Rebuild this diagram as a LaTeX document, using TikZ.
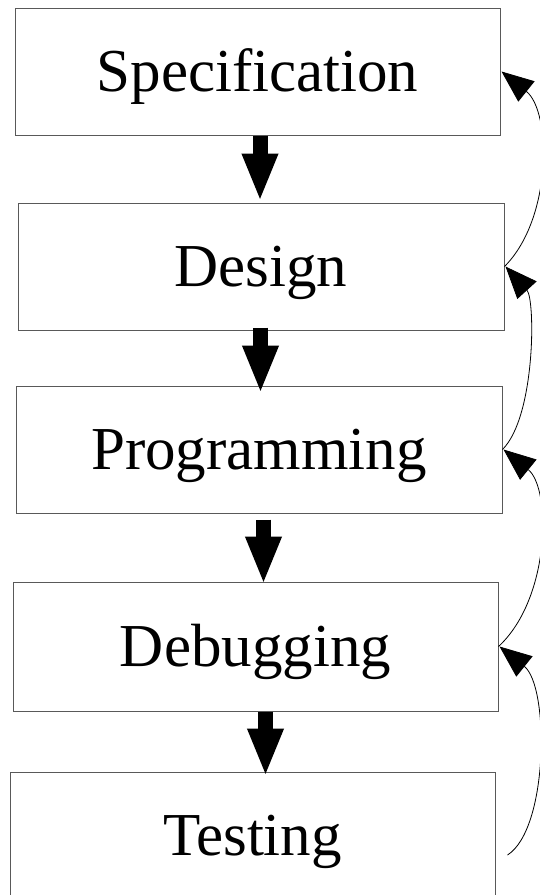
\documentclass[tikz,border=0pt]{standalone}
\usepackage{fontspec}
\setmainfont{Liberation Serif}
\usetikzlibrary{arrows.meta,calc}
\begin{document}
\begin{tikzpicture}[x=1pt,y=-1pt,
  stagebox/.style={draw=black!65,line width=1pt,rectangle,inner sep=0pt,
    minimum width=485pt,minimum height=127pt,text height=40pt,text depth=0pt,
    font=\fontsize{61}{70}\selectfont},
  blockarrow/.style={line width=15pt,line cap=butt,-{Triangle[length=48pt,width=33pt]}},
  backarrow/.style={line width=0.8pt,-{Triangle[length=32pt,width=26pt]}}]
\useasboundingbox (0,0) rectangle (540,895);
\node[stagebox] (b1) at (257.5,71.5) {Specification};
\node[stagebox,minimum width=486pt] (b2) at (261,266.5) {Design};
\node[stagebox,minimum width=486pt] (b3) at (259,449.5) {Programming};
\node[stagebox,minimum height=129pt] (b4) at (255.5,646.5) {Debugging};
\node[stagebox] (b5) at (252.5,835.5) {Testing};
% down block arrows
\draw[blockarrow] ($(b1.south)+(2.5,0)$) -- ($(b2.north)+(-1,-1)$);
\draw[blockarrow] ($(b2.south)+(-0.5,-3)$) -- ($(b3.north)+(1.5,8)$);
\draw[blockarrow] ($(b3.south)+(4.5,6)$) -- ($(b4.north)+(8,3)$);
\draw[blockarrow] ($(b4.south)+(10,0)$) -- ($(b5.north)+(13,5)$);
% feedback arrows
\coordinate (c4s) at ($(b5.east)+(12,19.5)$);
\draw[backarrow] (b2.east) .. controls +(48,-48) and +(50,40) .. ($(b1.east)+(1,0)$);
\draw[backarrow] (b3.east) .. controls +(33,-33) and +(30,33) .. ($(b2.east)+(1,0)$);
\draw[backarrow] (b4.east) .. controls +(52,-48) and +(48,39) .. ($(b3.east)+(1,0)$);
\draw[backarrow] (c4s) .. controls +(41,-26) and +(50,40) .. ($(b4.east)+(1,0)$);
\end{tikzpicture}
\end{document}
